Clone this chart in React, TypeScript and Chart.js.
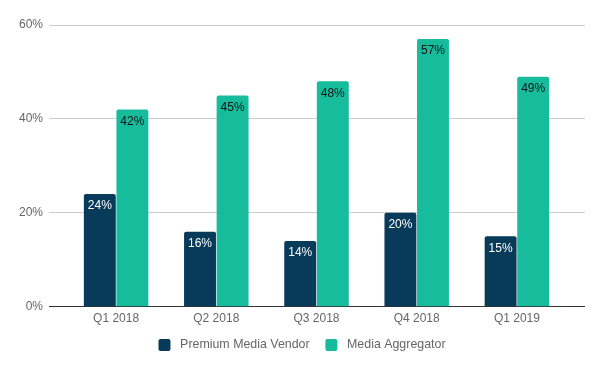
import React, { useEffect, useRef } from "react";
import { Chart, registerables } from "chart.js";

Chart.register(...registerables);

const categories = ["Q1 2018", "Q2 2018", "Q3 2018", "Q4 2018", "Q1 2019"];
const premiumVendor = [24, 16, 14, 20, 15];
const mediaAggregator = [42, 45, 48, 57, 49];
const yTicks = [0, 20, 40, 60];

const FONT = "'Liberation Sans', Arial, sans-serif";

const labelPlugin = {
  id: "barLabels",
  afterDatasetsDraw(chart: any) {
    const ctx = chart.ctx;
    ctx.save();
    ctx.font = `12px ${FONT}`;
    ctx.textAlign = "center";
    ctx.textBaseline = "middle";
    chart.data.datasets.forEach((ds: any, di: number) => {
      const meta = chart.getDatasetMeta(di);
      meta.data.forEach((bar: any, i: number) => {
        ctx.fillStyle = di === 0 ? "#ffffff" : "#111111";
        ctx.fillText(ds.data[i] + "%", bar.x, bar.y + 12);
      });
    });
    ctx.restore();
  },
};

const gridColor = (c: any) => (c.tick && c.tick.value === 0 ? "#333" : "#ccc");

export default function App() {
  const ref = useRef<HTMLCanvasElement>(null);
  useEffect(() => {
    const chart = new Chart(ref.current!, {
      type: "bar",
      data: {
        labels: categories,
        datasets: [
          {
            label: "Premium Media Vendor",
            data: premiumVendor,
            backgroundColor: "#083A59",
            borderRadius: 2,
            borderSkipped: "bottom",
            categoryPercentage: 0.65,
            barPercentage: 0.98,
          },
          {
            label: "Media Aggregator",
            data: mediaAggregator,
            backgroundColor: "#17BC9D",
            borderRadius: 2,
            borderSkipped: "bottom",
            categoryPercentage: 0.65,
            barPercentage: 0.98,
          },
        ],
      },
      options: {
        animation: false,
        responsive: false,
        layout: { padding: { left: 0, right: 0, top: 25, bottom: 9.9 } },
        plugins: {
          legend: {
            position: "bottom",
            labels: {
              boxWidth: 12,
              boxHeight: 12,
              useBorderRadius: true,
              borderRadius: 2,
              color: "#666",
              font: { family: FONT, size: 12.4, lineHeight: 0.96 },
              padding: 8.9,
              generateLabels: (c: any) =>
                Chart.defaults.plugins.legend.labels
                  .generateLabels(c)
                  .map((l: any, i: number, arr: any[]) => ({
                    ...l,
                    text: " " + l.text + (i < arr.length - 1 ? "  " : ""),
                  })),
            },
          },
          tooltip: { enabled: false },
        },
        scales: {
          x: {
            grid: { display: false, drawTicks: false },
            border: { color: "#333", width: 1 },
            ticks: { color: "#666", font: { family: FONT, size: 12, lineHeight: 1 }, padding: 5.5 },
          },
          y: {
            min: 0,
            max: 60,
            afterBuildTicks(scale: any) {
              scale.ticks = yTicks.map((v) => ({ value: v }));
            },
            afterFit(scale: any) {
              scale.width = 66;
            },
            border: { display: false },
            grid: {
              color: gridColor,
              drawTicks: true,
              tickLength: 17,
            },
            ticks: {
              color: "#666",
              font: { family: FONT, size: 12 },
              padding: 6,
              callback: (v: any) => v + "%",
            },
          },
          y2: {
            type: "linear",
            position: "right",
            min: 0,
            max: 60,
            afterBuildTicks(scale: any) {
              scale.ticks = yTicks.map((v) => ({ value: v }));
            },
            afterFit(scale: any) {
              scale.width = 37;
            },
            border: { display: false },
            grid: {
              color: gridColor,
              drawTicks: true,
              tickLength: 18,
            },
            ticks: { display: false },
          },
        },
      },
      plugins: [labelPlugin],
    });
    return () => chart.destroy();
  }, []);
  return (
    <div style={{ position: "fixed", left: 0, top: 0, width: 604, height: 371, background: "#fff" }}>
      <canvas ref={ref} width={604} height={371} />
    </div>
  );
}
